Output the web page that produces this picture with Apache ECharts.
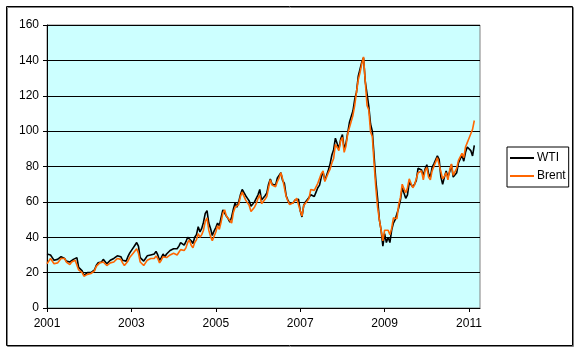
<!DOCTYPE html>
<html>
<head>
<meta charset="utf-8">
<script src="https://cdn.jsdelivr.net/npm/echarts@6/dist/echarts.min.js"></script>
<style>
html,body{margin:0;padding:0;background:#fff;}
#c{width:580px;height:353px;}
</style>
</head>
<body>
<div id="c"></div>
<script>
// Semi-monthly observations (1st and 15th of each month), starting January 2001
const startYear = 2001;
const pointsPerYear = 24;
const seriesNames = ['WTI', 'Brent'];
const yTicks = [0, 20, 40, 60, 80, 100, 120, 140, 160];

const wti = [
  30.5, 31.5, 30.0, 28.5, 27.0, 26.5, 27.5, 28.0, 29.0, 29.5, 28.0, 26.5, 26.5, 26.0, 27.0, 27.5, 27.5, 28.5, 23.0, 22.0, 21.0, 18.5, 19.0, 20.0,
  19.5, 20.0, 20.0, 21.5, 24.0, 25.5, 26.5, 26.0, 27.5, 27.0, 25.0, 26.0, 27.0, 27.0, 28.0, 29.0, 29.5, 30.5, 29.0, 27.0, 26.0, 26.5, 29.0, 31.0,
  32.0, 34.0, 35.5, 37.0, 35.0, 28.5, 28.0, 26.5, 28.0, 29.5, 30.5, 30.0, 31.0, 30.5, 32.0, 30.0, 27.0, 28.5, 30.5, 29.0, 30.5, 31.0, 32.5, 32.0,
  33.5, 34.5, 33.5, 35.0, 37.0, 36.0, 35.5, 37.5, 40.0, 41.0, 38.0, 36.5, 40.0, 41.5, 46.0, 43.0, 45.0, 48.5, 53.5, 55.0, 48.0, 45.0, 41.0, 43.5,
  45.5, 48.0, 46.5, 51.0, 55.5, 56.5, 52.0, 50.5, 48.5, 51.5, 56.0, 59.5, 57.0, 60.0, 64.0, 67.0, 67.5, 63.5, 62.0, 60.5, 57.5, 58.0, 60.0, 61.0,
  64.0, 67.0, 61.0, 62.0, 63.5, 65.0, 70.0, 73.0, 70.0, 71.0, 69.5, 73.5, 75.0, 76.5, 72.0, 70.5, 63.5, 61.0, 59.0, 58.0, 59.5, 61.0, 62.0, 61.5,
  55.0, 51.5, 58.0, 60.0, 60.5, 62.5, 64.0, 65.0, 63.0, 65.5, 68.0, 69.5, 74.0, 77.0, 72.0, 71.5, 78.0, 81.5, 86.5, 89.5, 96.0, 96.5, 90.0, 95.5,
  98.0, 90.0, 93.0, 99.0, 105.0, 104.0, 111.5, 118.0, 122.0, 131.0, 135.0, 139.0, 141.5, 128.0, 121.0, 114.0, 104.0, 100.0, 86.0, 72.0, 62.0, 50.0, 44.0, 35.0,
  42.0, 37.0, 40.0, 37.0, 44.0, 48.0, 50.0, 49.0, 56.5, 61.0, 68.0, 69.0, 62.0, 64.0, 71.0, 72.0, 68.5, 70.0, 72.0, 79.0, 78.5, 78.0, 75.0, 78.5,
  81.0, 76.0, 74.0, 79.5, 81.5, 81.0, 86.0, 84.0, 74.0, 70.0, 74.0, 77.5, 74.0, 77.0, 81.0, 74.0, 75.0, 76.5, 82.0, 82.0, 86.5, 83.0, 88.0, 91.0,
  91.0, 89.0, 86.0, 92.0
];

const brent = [
  25.0, 26.5, 28.0, 27.0, 25.0, 24.5, 25.5, 26.5, 28.0, 28.5, 28.0, 26.0, 25.0, 24.5, 26.0, 26.5, 27.0, 27.5, 21.5, 20.5, 20.0, 18.0, 18.5, 19.0,
  19.0, 19.5, 20.0, 21.0, 23.5, 24.5, 25.5, 25.0, 26.0, 25.0, 24.0, 24.5, 25.5, 25.0, 26.0, 27.0, 28.0, 28.5, 27.5, 25.5, 24.0, 24.5, 26.5, 28.5,
  29.5, 31.0, 32.0, 33.5, 31.0, 26.0, 25.0, 24.0, 25.5, 27.0, 27.5, 28.0, 28.5, 28.0, 29.5, 28.0, 25.5, 27.0, 29.0, 28.0, 28.5, 29.0, 30.0, 30.0,
  31.0, 31.0, 30.0, 31.5, 33.0, 33.0, 32.5, 34.0, 37.0, 38.5, 35.5, 34.0, 37.0, 38.5, 42.0, 40.0, 41.5, 44.0, 49.0, 51.0, 44.0, 40.5, 38.0, 40.5,
  43.0, 46.5, 44.5, 48.5, 53.5, 55.5, 52.0, 52.0, 49.5, 48.0, 54.0, 57.0, 56.0, 58.5, 63.0, 65.5, 64.5, 61.0, 60.0, 58.0, 54.5, 55.5, 57.0, 59.0,
  62.0, 64.0, 59.0, 60.0, 61.5, 63.0, 68.0, 72.5, 69.5, 70.0, 68.5, 71.5, 73.5, 76.5, 73.0, 72.0, 63.0, 60.5, 58.5, 58.5, 59.5, 60.5, 62.0, 61.0,
  55.0, 52.0, 58.0, 58.5, 60.5, 62.0, 67.0, 67.5, 66.5, 68.5, 70.5, 71.0, 76.0, 77.5, 71.5, 70.5, 76.5, 78.5, 82.0, 84.5, 92.5, 93.0, 89.0, 94.5,
  96.5, 88.0, 91.5, 98.5, 102.0, 102.0, 109.0, 114.5, 122.0, 129.0, 133.0, 138.0, 142.0, 128.0, 114.5, 112.0, 99.5, 97.0, 82.0, 68.0, 57.0, 50.0, 44.0, 38.0,
  44.0, 43.0, 44.0, 41.5, 45.0, 51.0, 52.0, 50.5, 58.5, 62.5, 70.0, 69.0, 65.0, 68.0, 73.0, 72.5, 68.0, 69.5, 70.5, 76.5, 77.5, 77.5, 72.5, 77.5,
  79.5, 74.0, 72.5, 77.5, 80.0, 80.5, 85.0, 86.0, 77.0, 73.0, 74.5, 76.5, 72.5, 78.0, 81.5, 75.0, 77.0, 79.0, 83.5, 83.5, 87.5, 85.0, 91.0, 93.5,
  96.0, 98.5, 101.0, 106.0
];

const toPairs = arr => arr.map((v, i) => [i / pointsPerYear, v]);
const font = "'Liberation Sans', Arial, sans-serif";
const seriesColors = ['#000000', '#FF6600'];

const chart = echarts.init(document.getElementById('c'), null, {renderer: 'canvas'});
chart.setOption({
  animation: false,
  backgroundColor: '#ffffff',
  textStyle: {fontFamily: font},
  graphic: [
    {type: 'rect', shape: {x: 7.5, y: 7.5, width: 566, height: 339}, style: {fill: 'none', stroke: '#808080', lineWidth: 1}, silent: true, z: -1},
    {type: 'rect', shape: {x: 6.5, y: 6.5, width: 566, height: 339}, style: {fill: 'none', stroke: '#000', lineWidth: 1}, silent: true, z: -1}
  ],
  grid: {
    left: 47, top: 25, width: 433, height: 283,
    show: true, backgroundColor: '#CCFFFF', borderColor: '#808080', borderWidth: 1
  },
  legend: {
    orient: 'vertical',
    left: 507, top: 147,
    data: seriesNames.map(n => ({name: n, icon: 'rect'})),
    borderColor: '#000', borderWidth: 1, borderRadius: 0,
    padding: [5, 3, 5, 3],
    itemGap: 6,
    itemWidth: 24, itemHeight: 2,
    textStyle: {fontFamily: font, fontSize: 12, color: '#000', padding: [0, 0, 0, -2]}
  },
  xAxis: {
    type: 'value',
    min: 0, max: 10.26, interval: 2,
    axisLine: {show: true, lineStyle: {color: '#000', width: 1}},
    axisTick: {show: true, length: 4, lineStyle: {color: '#000'}},
    splitLine: {show: false},
    axisLabel: {
      showMaxLabel: false,
      color: '#000', fontSize: 12, fontFamily: font, margin: 10,
      formatter: v => (Math.abs(v - Math.round(v)) < 1e-6 && Math.round(v) % 2 === 0) ? String(startYear + Math.round(v)) : ''
    }
  },
  yAxis: {
    type: 'value',
    min: yTicks[0], max: yTicks[yTicks.length - 1], interval: yTicks[1] - yTicks[0],
    axisLine: {show: true, lineStyle: {color: '#000', width: 1}},
    axisTick: {show: true, length: 4, lineStyle: {color: '#000'}},
    splitLine: {show: true, lineStyle: {color: '#000', width: 1}},
    axisLabel: {color: '#000', fontSize: 12, fontFamily: font, margin: 8}
  },
  series: [
    {name: seriesNames[0], type: 'line', data: toPairs(wti), symbol: 'none', lineStyle: {color: seriesColors[0], width: 1.6}, itemStyle: {color: seriesColors[0]}},
    {name: seriesNames[1], type: 'line', data: toPairs(brent), symbol: 'none', lineStyle: {color: seriesColors[1], width: 1.6}, itemStyle: {color: seriesColors[1]}}
  ]
});
</script>
</body>
</html>
